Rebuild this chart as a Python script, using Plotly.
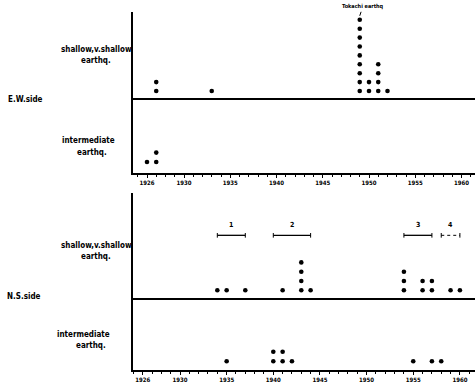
import plotly.graph_objects as go

# ---- data (stacked dot counts per year) ----
ew_shallow_years = [1927, 1933, 1949, 1950, 1951, 1952]
ew_shallow_counts = [2, 1, 9, 2, 4, 1]
ew_inter_years = [1926, 1927]
ew_inter_counts = [1, 2]
ns_shallow_years = [1934, 1935, 1937, 1941, 1943, 1944, 1954, 1956, 1957, 1959, 1960]
ns_shallow_counts = [1, 1, 1, 1, 4, 1, 3, 2, 2, 1, 1]
ns_inter_years = [1935, 1940, 1941, 1942, 1955, 1957, 1958]
ns_inter_counts = [1, 2, 2, 1, 1, 1, 1]
period_labels = ["1", "2", "3", "4"]
period_start = [1934, 1940, 1954, 1958]
period_end = [1937, 1944, 1957, 1960]
tick_years = [1926, 1930, 1935, 1940, 1945, 1950, 1955, 1960]
tokachi_year = 1949
tokachi_count = 9

W, H = 475, 382
L = 133
FONT = "Liberation Sans Narrow, DejaVu Sans Condensed, Liberation Sans, sans-serif"


def fy(py):
    return 1 - py / H


def fx(px):
    return (px - L) / (W - L)


def stack(years, counts):
    xs, ys = [], []
    for yr, n in zip(years, counts):
        for k in range(1, n + 1):
            xs.append(yr)
            ys.append(k)
    return xs, ys


fig = go.Figure()
mk = dict(color="black", size=4.6, symbol="circle")
for (yrs, cnts, xa, ya) in [
    (ew_shallow_years, ew_shallow_counts, "x3", "y"),
    (ew_inter_years, ew_inter_counts, "x", "y2"),
    (ns_shallow_years, ns_shallow_counts, "x4", "y3"),
    (ns_inter_years, ns_inter_counts, "x2", "y4"),
]:
    xs, ys = stack(yrs, cnts)
    fig.add_trace(go.Scatter(x=xs, y=ys, mode="markers", marker=mk,
                             xaxis=xa, yaxis=ya, showlegend=False, hoverinfo="skip"))

top_range = [1924.486, 1961.459]
bot_range = [1924.963, 1961.618]

xcommon = dict(showgrid=False, zeroline=False, domain=[0, 1])
tickfont = dict(family=FONT, size=6, color="black", weight="bold")
xaxis_vis = dict(
    **xcommon, showline=True, linecolor="black", linewidth=1.5,
    tickvals=tick_years, ticktext=[str(t) for t in tick_years],
    ticks="outside", ticklen=3, tickwidth=1, tickcolor="black",
    tickfont=tickfont,
    minor=dict(dtick=1, tick0=1926, ticks="outside", ticklen=2, tickcolor="black", tickwidth=1),
)

ycommon = dict(showgrid=False, zeroline=False, showticklabels=False,
               showline=True, linecolor="black", linewidth=1.5, ticks="")

fig.update_layout(
    width=W, height=H,
    margin=dict(l=L, r=0, t=0, b=0, pad=0),
    paper_bgcolor="white", plot_bgcolor="white",
    xaxis=dict(**xaxis_vis, range=top_range, anchor="y2"),
    xaxis2=dict(**xaxis_vis, range=bot_range, anchor="y4"),
    xaxis3=dict(**xcommon, range=top_range, anchor="y", visible=False),
    xaxis4=dict(**xcommon, range=bot_range, anchor="y3", visible=False),
    yaxis=dict(**ycommon, domain=[fy(99), fy(12)], range=[0.101, 9.876], anchor="x3"),
    yaxis2=dict(**ycommon, domain=[fy(173), fy(99)], range=[-0.170, 7.70], anchor="x"),
    yaxis3=dict(**ycommon, domain=[fy(299), fy(193)], range=[0.0645, 11.46], anchor="x4"),
    yaxis4=dict(**ycommon, domain=[fy(370), fy(299)], range=[0.094, 7.49], anchor="x2"),
)

shapes = []
for py in (99, 299):
    shapes.append(dict(type="line", xref="paper", yref="paper", x0=0, x1=1,
                       y0=fy(py), y1=fy(py), line=dict(color="black", width=2)))

bracket_y = 6.91
cap = 0.25
for i, (s, e) in enumerate(zip(period_start, period_end)):
    dash = "dot" if i == 3 else "solid"
    w = 1 if i == 3 else 1.3
    shapes.append(dict(type="line", xref="x4", yref="y3", x0=s, x1=e, y0=bracket_y, y1=bracket_y,
                       line=dict(color="black", width=w, dash=dash)))
    for xv in (s, e):
        shapes.append(dict(type="line", xref="x4", yref="y3", x0=xv, x1=xv,
                           y0=bracket_y - cap, y1=bracket_y + cap,
                           line=dict(color="black", width=1)))
fig.update_layout(shapes=shapes)

lab_font = dict(family=FONT, size=8, color="black", weight="bold")
annots = []


def side_text(text, cx, py):
    annots.append(dict(text=text, xref="paper", yref="paper", x=fx(cx), y=fy(py),
                       xanchor="center", yanchor="middle", showarrow=False, font=lab_font))


side_text("shallow,v.shallow", 96, 49)
side_text("earthq.", 96, 60)
side_text("E.W.side", 25, 99)
side_text("intermediate", 88, 141)
side_text("earthq.", 92, 152)
side_text("shallow,v.shallow", 96, 245)
side_text("earthq.", 96, 256)
side_text("N.S.side", 24, 296)
side_text("intermediate", 83, 334)
side_text("earthq.", 91, 345)

for lab, s, e in zip(period_labels, period_start, period_end):
    annots.append(dict(text=lab, xref="x4", yref="y3", x=(s + e) / 2, y=8.05,
                       showarrow=False, xanchor="center", yanchor="middle",
                       font=dict(family=FONT, size=7, color="black", weight="bold")))

annots.append(dict(text="Tokachi earthq", xref="x3", yref="y", x=tokachi_year, y=tokachi_count + 0.45,
                   showarrow=True, arrowhead=0, arrowwidth=1, arrowcolor="black",
                   ax=3, ay=-9, standoff=0,
                   font=dict(family=FONT, size=5.5, color="black", weight="bold")))
fig.update_layout(annotations=annots)

fig.write_html("out.html", config={"displayModeBar": False},
               post_script="document.body.style.margin='0';")
